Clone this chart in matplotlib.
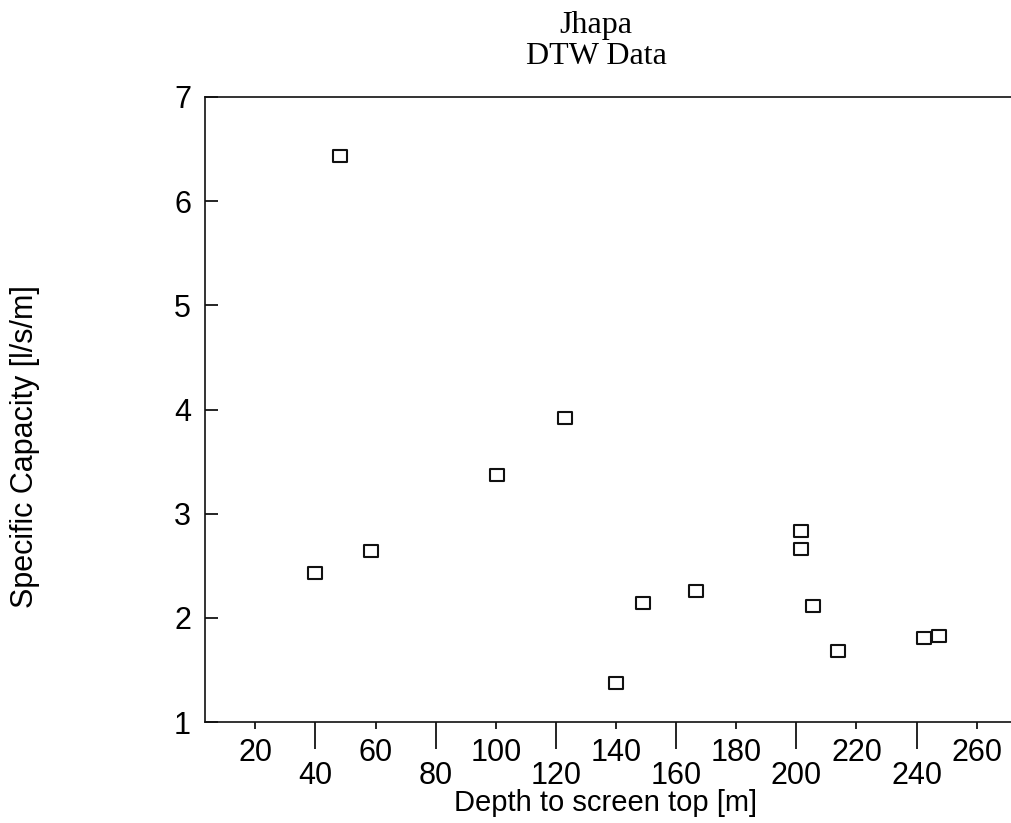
import matplotlib
matplotlib.use('Agg')
import matplotlib.pyplot as plt
from matplotlib.path import Path

# ---- data ----
depth = [48.2, 39.8, 58.4, 100.4, 123.0, 140.0, 148.9, 166.7,
         201.7, 201.4, 205.6, 213.7, 242.6, 247.6]
capacity = [6.43, 2.43, 2.64, 3.37, 3.92, 1.37, 2.14, 2.26,
            2.83, 2.66, 2.11, 1.68, 1.81, 1.83]
xticks_upper = [20, 60, 100, 140, 180, 220, 260]
xticks_lower = [40, 80, 120, 160, 200, 240]
yticks = [1, 2, 3, 4, 5, 6, 7]
title_lines = ["Jhapa", "DTW Data"]
xlabel = "Depth to screen top [m]"
ylabel = "Specific Capacity [l/s/m]"

W, H = 1012, 823
fig = plt.figure(figsize=(W / 100, H / 100), dpi=100)

sans = ['Liberation Sans', 'DejaVu Sans']
serif = ['Liberation Serif', 'DejaVu Serif']

# layout (pixels)
x_lo, x_hi = 3.27, 290.0
px_per_unit = 3.006
left_px, bottom_px, top_px = 205, 722, 97
width_px = (x_hi - x_lo) * px_per_unit
ax = fig.add_axes([left_px / W, 1 - bottom_px / H, width_px / W,
                   (bottom_px - top_px) / H])
ax.set_xlim(x_lo, x_hi)
ax.set_ylim(1, 7)

for s in ax.spines.values():
    s.set_linewidth(1.2)
    s.set_color('#111111')

# slightly wide open square marker
sq = Path([(-1.1, -1), (1.1, -1), (1.1, 1), (-1.1, 1), (-1.1, -1)],
          [Path.MOVETO, Path.LINETO, Path.LINETO, Path.LINETO, Path.CLOSEPOLY])
ax.plot(depth, capacity, linestyle='none', marker=sq, markersize=10,
        markerfacecolor='white', markeredgecolor='#111111',
        markeredgewidth=1.5, clip_on=False)

# staggered x tick labels
ax.set_xticks(xticks_lower, labels=[str(v) for v in xticks_lower])
ax.set_xticks(xticks_upper, labels=[str(v) for v in xticks_upper], minor=True)
ax.tick_params(axis='x', which='major', direction='out', length=19.4,
               width=1.2, pad=8.5, labelsize=22)
ax.tick_params(axis='x', which='minor', direction='out', length=5,
               width=1.2, pad=6.8, labelsize=22)
ax.set_yticks(yticks, labels=[str(v) for v in yticks])
ax.tick_params(axis='y', which='major', direction='in', length=9.4,
               width=1.2, pad=10.0, labelsize=22)
for lab in ax.get_xticklabels(which='both') + ax.get_yticklabels():
    lab.set_fontfamily(sans)

fig.text(606 / W, 1 - 811 / H, xlabel, ha='center', va='baseline',
         fontsize=21, family=sans)
fig.text(25 / W, 1 - 447 / H, ylabel, ha='center', va='center',
         rotation=90, fontsize=22, family=sans)

fig.text(596 / W, 1 - 33 / H, title_lines[0], ha='center', va='baseline',
         fontsize=23, family=serif)
fig.text(596 / W, 1 - 64 / H, title_lines[1], ha='center', va='baseline',
         fontsize=23, family=serif)

fig.savefig('out.png', dpi=100)
